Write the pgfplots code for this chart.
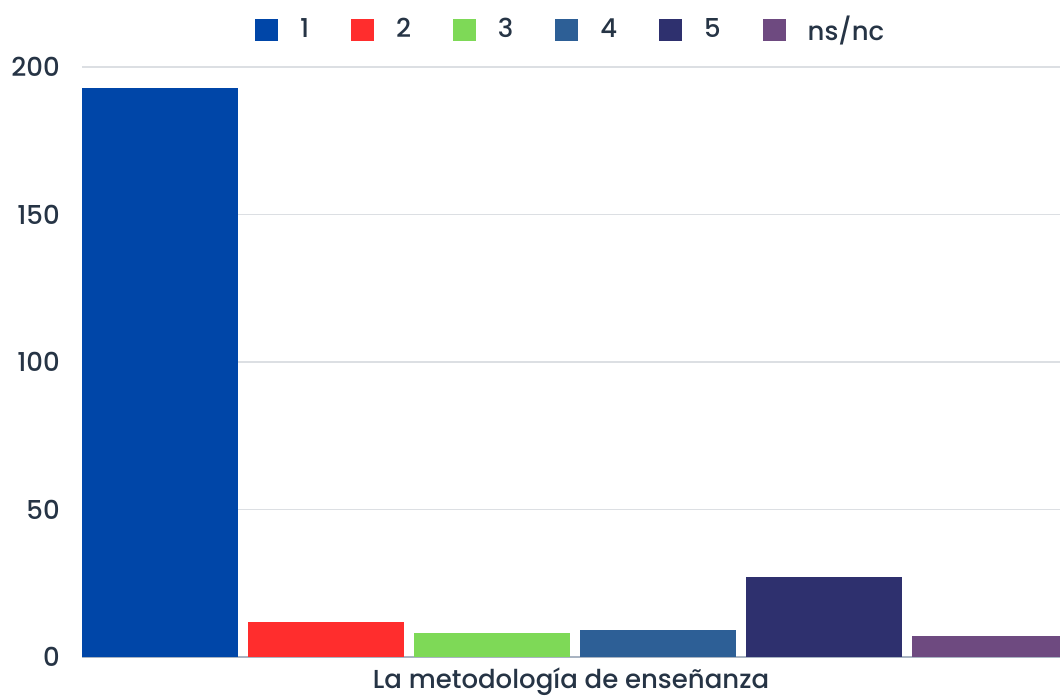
\documentclass[border=0pt]{standalone}
\usepackage{pgfplots}
\pgfplotsset{compat=1.18}
\usepackage{fontspec}
\setmainfont{Poppins Medium}
\definecolor{c1}{HTML}{0046A8}
\definecolor{c2}{HTML}{FF2D2D}
\definecolor{c3}{HTML}{7ED957}
\definecolor{c4}{HTML}{2D5F96}
\definecolor{c5}{HTML}{2E306E}
\definecolor{c6}{HTML}{6E4A80}
\definecolor{txt}{HTML}{263445}
\definecolor{gridc}{HTML}{DCDFE3}
\definecolor{axc}{HTML}{A9B4C2}
\pgfplotsset{sq/.style={legend image code/.code={\fill[##1,draw=none] (0pt,-8.6pt) rectangle (17.2pt,8.6pt);}}}
\begin{document}
\fontsize{19.5pt}{23pt}\selectfont
\begin{tikzpicture}
\begin{axis}[
  at={(0,0)}, anchor=south west,
  width=733.5pt, height=442.5pt, scale only axis,
  xmin=-0.47, xmax=5.42, ymin=0, ymax=200,
  ytick={0,50,100,150,200}, xtick=\empty,
  major tick length=0pt,
  ymajorgrids, grid style={color=gridc, line width=0.8pt},
  axis x line*=bottom, axis y line*=left,
  y axis line style={draw=none},
  x axis line style={color=axc, line width=1.2pt},
  /pgf/number format/assume math mode=true,
  tick label style={font=\fontsize{19.5pt}{23pt}\selectfont, color=txt},
  yticklabel style={xshift=-10pt},
  xlabel={La metodología de enseñanza},
  xlabel style={font=\fontsize{19.5pt}{23pt}\selectfont, color=txt, yshift=-1.5pt},
  ybar, bar width=0.94, bar shift=0pt,
  legend columns=6,
  legend style={draw=none, fill=none, at={(0.5,1.0627)}, anchor=center,
    font=\fontsize{19.5pt}{23pt}\selectfont, text=txt,
    /tikz/every odd column/.append style={column sep=14.5pt},
    /tikz/every even column/.append style={column sep=29.5pt}},
]
\addplot[fill=c1, draw=none, sq] coordinates {(0,193)};
\addplot[fill=c2, draw=none, sq] coordinates {(1,12)};
\addplot[fill=c3, draw=none, sq] coordinates {(2,8)};
\addplot[fill=c4, draw=none, sq] coordinates {(3,9)};
\addplot[fill=c5, draw=none, sq] coordinates {(4,27)};
\addplot[fill=c6, draw=none, sq] coordinates {(5,7)};
\legend{1,2,3,4,5,ns/nc}
\end{axis}
\pgfresetboundingbox
\path[use as bounding box] (-61.5pt,-31.5pt) rectangle (733.5pt,492.75pt);
\end{tikzpicture}
\end{document}
